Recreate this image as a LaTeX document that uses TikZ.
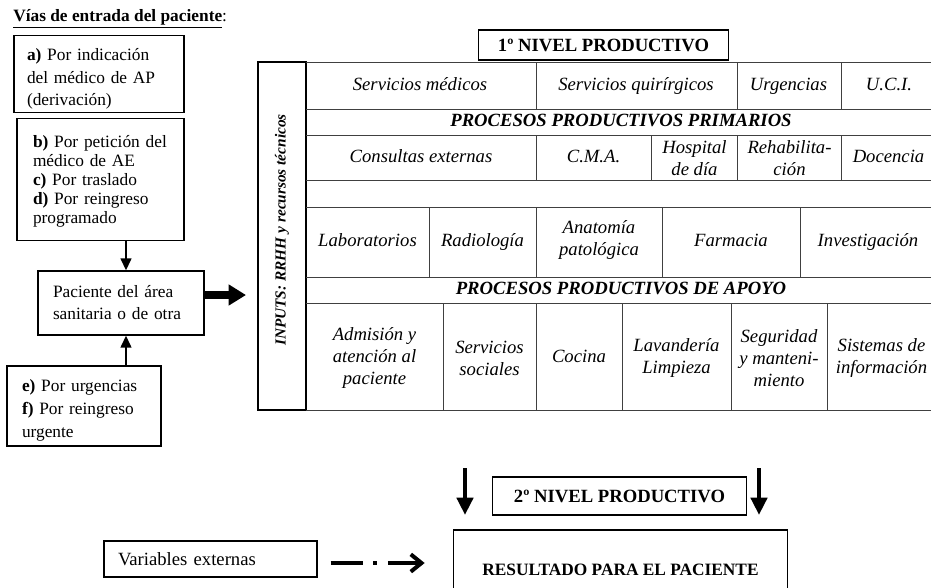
\documentclass[tikz,border=0pt]{standalone}
\usepackage{fontspec}
\setmainfont{Liberation Serif}
\usepackage{tikz}
\usetikzlibrary{arrows.meta}

\begin{document}
\begin{tikzpicture}[x=0.75pt, y=-0.75pt,
		EntryBox/.style={rectangle, draw=black, line width=0.9pt, align=left, font=\fontsize{13}{17}\selectfont, inner ysep=2pt},
		TitleBox/.style={rectangle, draw=black, line width=0.8pt, font=\fontsize{14}{16}\selectfont\bfseries},
		CellText/.style={align=center, font=\fontsize{14}{16.5}\selectfont\itshape, inner sep=0pt},
		OneLine/.style={CellText, text height=10pt, text depth=3pt},
		HeaderText/.style={font=\fontsize{14}{16}\selectfont\bfseries\itshape, inner sep=0pt, text height=10pt, text depth=3pt},
		TableLine/.style={draw=black!75, line width=0.75pt},
		InArrow/.style={-{Triangle[length=9pt, width=8pt]}, line width=1.6pt},
		BigArrow/.style={-{Triangle[length=13pt, width=15pt]}, line width=6pt},
		DownArrow/.style={-{Triangle[length=13pt, width=12pt]}, line width=3.5pt},
		ExtArrow/.style={-{Straight Barb[length=8pt, width=13pt]}, line width=3pt, dash pattern=on 24pt off 8pt on 3pt off 8pt on 60pt}]

	\useasboundingbox (0,0) rectangle (931,587);
	\clip (0,0) rectangle (931,587);

	% Entry side
	\node[anchor=west, inner sep=0pt, font=\fontsize{13}{15}\selectfont] (TituloNode) at (13,19) {\underline{\textbf{Vías de entrada del paciente}}:};

	\node[EntryBox, text width=108pt, inner xsep=9.75pt, minimum height=57pt] (BoxA) at (99,74)
		{\rule{0pt}{16.5pt}\textbf{a)} Por indicación\\ del médico de AP\\ (derivación)};
	\node[EntryBox, text width=101.25pt, inner xsep=12pt, minimum height=91pt, font=\fontsize{13}{14.3}\selectfont] (BoxB) at (100.5,179.5)
		{\rule{0pt}{12pt}\makebox[\hsize][s]{\textbf{b)} Por petición del}\\ médico de AE\\ \textbf{c)} Por traslado\\ \makebox[\hsize][s]{\textbf{d)} Por reingreso}\\ programado};
	\node[EntryBox, text width=102pt, inner xsep=11.25pt, minimum height=48pt, font=\fontsize{13}{16.5}\selectfont] (PacienteNode) at (121,303)
		{Paciente del área\\ sanitaria o de otra};
	\node[EntryBox, text width=93pt, inner xsep=11.25pt, minimum height=60pt] (BoxE) at (84,406)
		{\rule{0pt}{15.5pt}\textbf{e)} Por urgencias\\ \makebox[\hsize][s]{\textbf{f)} Por reingreso}\\ urgente};

	\coordinate (PacTop) at ([xshift=3.75pt]PacienteNode.north);
	\coordinate (PacBottom) at ([xshift=3.75pt]PacienteNode.south);
	\coordinate (PacRight) at ([yshift=6pt]PacienteNode.east);

	\draw[InArrow] (PacTop |- BoxB.south) -- (PacTop);
	\draw[InArrow] (PacBottom |- BoxE.north) -- (PacBottom);

	% Inputs
	\node[rectangle, draw=black, line width=1.5pt, minimum width=36pt, minimum height=261pt, inner sep=0pt] (InputsNode) at (282,236) {};
	\node[rotate=90, inner sep=0pt, font=\fontsize{11.5}{13}\selectfont\bfseries\itshape] (InputsText) at (282,230) {INPUTS: RRHH y recursos técnicos};

	\draw[BigArrow, shorten >=8.25pt] (PacRight) -- (PacRight -| InputsNode.west);

	% Table
	\node[TitleBox, minimum width=188pt, minimum height=22.5pt] (NivelUno) at (603.5,45) {1º NIVEL PRODUCTIVO};

	\foreach \y in {62,109,135,180,207,277,303,410}
		\draw[TableLine] (306,\y) -- (940,\y);
	\foreach \x/\ya/\yb in {536/62/109, 737/62/109, 841/62/109,
			536/135/180, 651/135/180, 737/135/180, 841/135/180,
			429/207/277, 536/207/277, 662/207/277, 800/207/277,
			443/303/410, 536/303/410, 622/303/410, 731/303/410, 827/303/410}
		\draw[TableLine] (\x,\ya) -- (\x,\yb);

	\node[OneLine] (SrvMed) at (420,86) {Servicios médicos};
	\node[OneLine] (SrvQuir) at (636,86) {Servicios quirírgicos};
	\node[OneLine] (Urg) at (788.5,86) {Urgencias};
	\node[OneLine] (UCI) at (889,86) {U.C.I.};

	\node[HeaderText] (Primarios) at (621,122) {PROCESOS PRODUCTIVOS PRIMARIOS};

	\node[OneLine] (ConsExt) at (421,158) {Consultas externas};
	\node[OneLine] (CMA) at (593.5,158) {C.M.A.};
	\node[CellText] (HospDia) at (694.5,158) {Hospital\\de día};
	\node[CellText] (Rehab) at (789.5,158) {Rehabilita-\\ción};
	\node[OneLine] (Docencia) at (888.5,158) {Docencia};

	\node[OneLine] (Lab) at (367.5,242) {Laboratorios};
	\node[OneLine] (Radio) at (482.5,242) {Radiología};
	\node[CellText] (Anat) at (599,240) {Anatomía\\patológica};
	\node[OneLine] (Farm) at (731,242) {Farmacia};
	\node[OneLine] (Invest) at (868,242) {Investigación};

	\node[HeaderText] (Apoyo) at (621,290) {PROCESOS PRODUCTIVOS DE APOYO};

	\node[CellText] (Admision) at (374.5,358) {Admisión y\\atención al\\paciente};
	\node[CellText] (SrvSoc) at (489.5,358) {Servicios\\sociales};
	\node[OneLine] (Cocina) at (579,358) {Cocina};
	\node[CellText] (Lavand) at (676.5,358) {Lavandería\\Limpieza};
	\node[CellText] (Segur) at (779,358) {Seguridad\\y manteni-\\miento};
	\node[CellText] (SistInf) at (881.5,358) {Sistemas de\\información};

	% Result
	\node[TitleBox, minimum width=190pt, minimum height=28.5pt] (NivelDos) at (619.5,496) {2º NIVEL PRODUCTIVO};
	\node[rectangle, draw=black, line width=0.8pt, minimum width=251pt, minimum height=60pt, font=\fontsize{13}{15}\selectfont\bfseries] (ResNode) at (620.5,570) {RESULTADO PARA EL PACIENTE};
	\node[EntryBox, font=\fontsize{14}{16}\selectfont, text width=138.75pt, inner xsep=10.5pt, minimum height=27pt] (VarNode) at (210.5,559) {Variables externas};

	\coordinate (FlechaIzqA) at (465,468);
	\coordinate (FlechaIzqB) at (465,515);
	\coordinate (FlechaDerA) at (759,468);
	\coordinate (FlechaDerB) at (759,515);
	\draw[DownArrow] (FlechaIzqA) -- (FlechaIzqB);
	\draw[DownArrow] (FlechaDerA) -- (FlechaDerB);

	\coordinate (VarRight) at ([yshift=-3pt]VarNode.east);
	\draw[ExtArrow, shorten <=9.75pt, shorten >=21pt] (VarRight) -- (VarRight -| ResNode.west);
\end{tikzpicture}
\end{document}
